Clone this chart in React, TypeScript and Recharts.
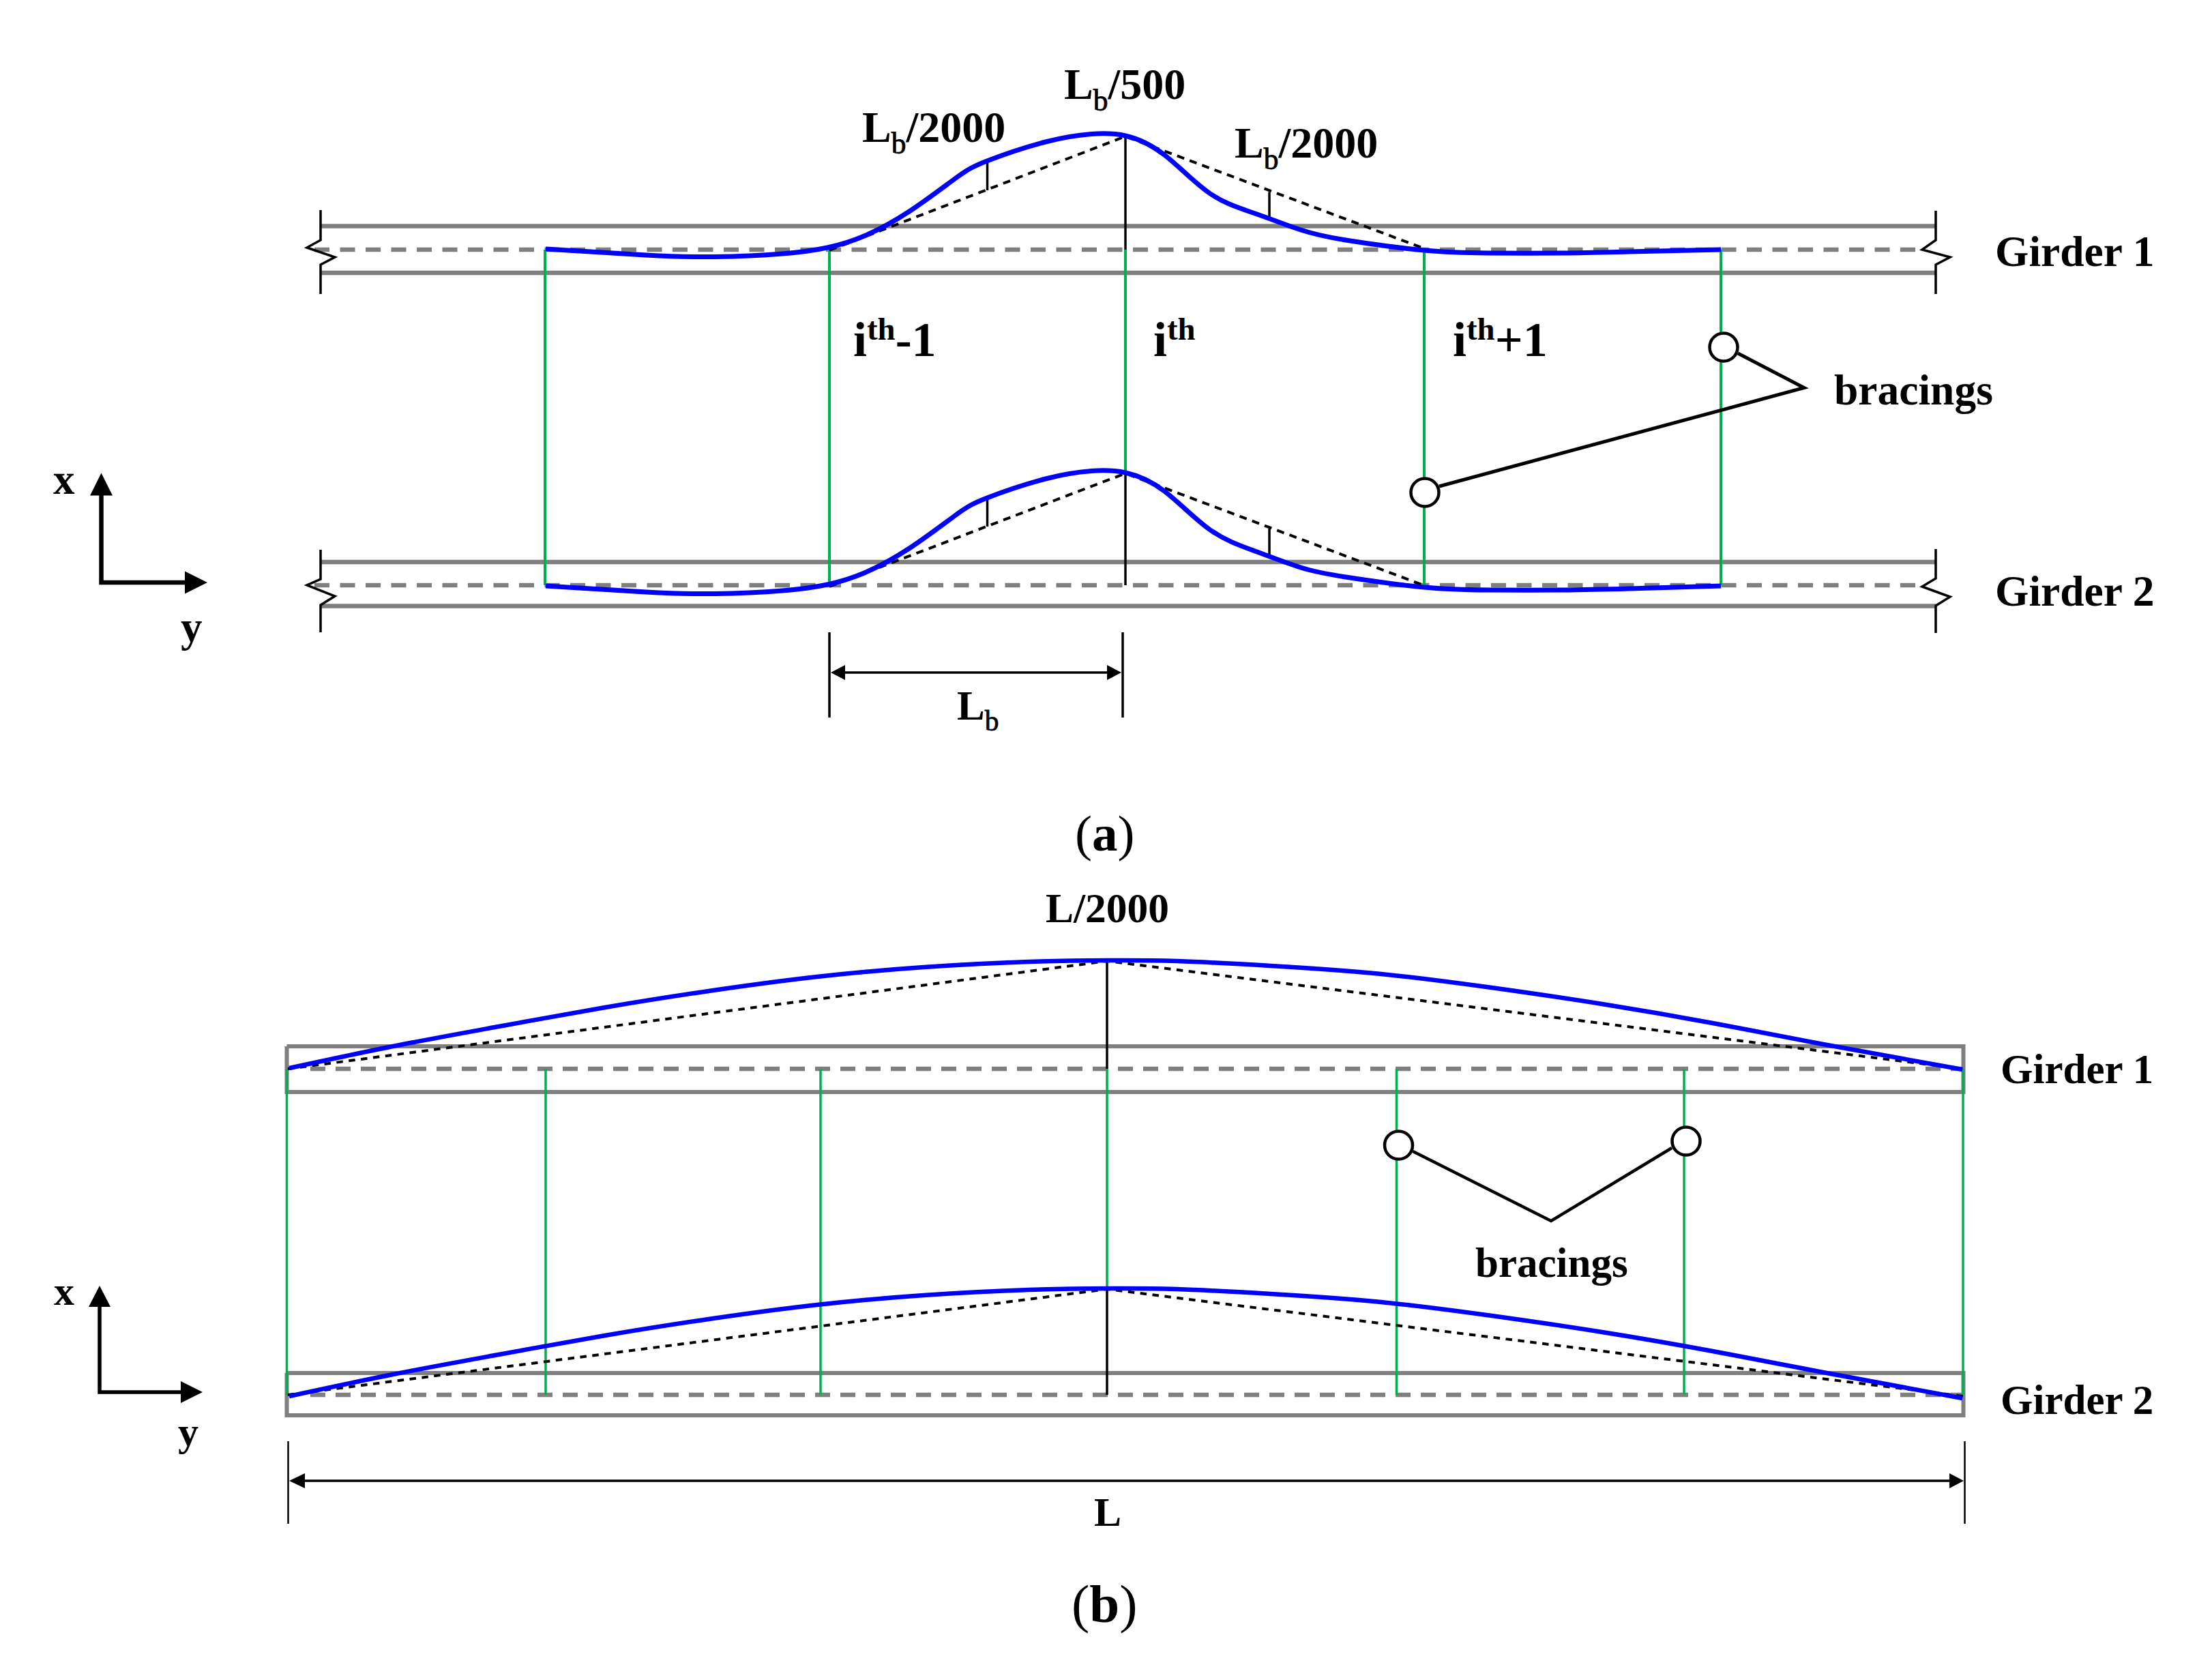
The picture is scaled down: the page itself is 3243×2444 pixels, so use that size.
import React from 'react';
import { ComposedChart, Line, Scatter, XAxis, YAxis } from 'recharts';

const W = 3243, H = 2444;
const GRAY = '#7f7f7f', BLUE = '#0000ff', GREEN = '#00b050', BLACK = '#000000';
const FONT = '"Liberation Serif", "Times New Roman", serif';

type Pt = { x: number; y: number };
const zip = (xs: number[], ys: number[]): Pt[] => xs.map((x, i) => ({ x, y: ys[i] }));

// ---- panel (a) ----
const aRailX = [470, 2838];
const aDashX = [461, 2818];
const aG1RailTop = [331.5, 331.5];
const aG1RailMid = [366, 366];
const aG1RailBot = [400, 400];
const aG2RailTop = [824, 824];
const aG2RailMid = [858, 858];
const aG2RailBot = [888.5, 888.5];

const breakLX1 = [470, 470, 450, 491, 470, 470];
const breakLY1 = [308, 352, 363, 377, 388, 431];
const breakLY2 = [806, 849, 858, 874, 887, 927];
const breakRX = [2838, 2838, 2818, 2859, 2838, 2838];
const breakRY1 = [309, 352, 366, 377, 388, 431];
const breakRY2 = [805, 848, 860, 875, 888, 928];

const aBraceX = [799, 1216, 2088, 2523];
const aMidBraceX = [1650, 1650];
const aMidBraceY = [366, 694];

const aCurveX = [800, 947, 1047, 1147, 1213, 1267, 1333, 1400, 1447, 1533, 1600, 1650, 1707, 1773, 1840, 1907, 1973, 2088, 2182, 2290, 2389, 2523];
const aCurve1Y = [365, 374, 376.5, 372, 363, 346, 310, 262, 236, 208, 196.5, 199, 227, 283, 313, 337, 352, 367, 371, 371, 369, 366];
const aCurve2Y = [859, 868, 870.5, 866, 857, 840, 804, 756, 730, 702, 690.5, 693, 720, 776, 808, 832, 846, 861, 865, 865, 863, 859];
const aChordX = [1216, 1650, 2087];
const aChord1Y = [367, 200, 364];
const aChord2Y = [860, 694, 858];
const aOffsetX = [1447.5, 1861];
const aOff1Top = [279, 281.5];
const aOff1Bot = [236, 323];
const aOff2Top = [772, 775];
const aOff2Bot = [731, 817];
const aPierX = [1650, 1650];
const aPier1Y = [200, 366];
const aPier2Y = [694, 858];
const aLeaderX = [2548, 2645, 2110];
const aLeaderY = [518, 568.5, 713];
const aBubbleX = [2527, 2089];
const aBubbleY = [509, 722];
const aDimX = [1222, 1640];
const aDimY = [986, 986];
const aTickLX = [1216, 1216];
const aTickRX = [1646, 1646];
const aTickY = [927, 1052];
const aAxisX = [148.5, 148.5, 275];
const aAxisY = [725, 854, 854];

// ---- panel (b) ----
const bBox1X = [420.5, 2878.5, 2878.5, 420.5, 420.5];
const bBox1Y = [1534, 1534, 1601, 1601, 1534];
const bBox2Y = [2013, 2013, 2075, 2075, 2013];
const bDashX = [455, 2878];
const bDash1Y = [1567, 1567];
const bDash2Y = [2045, 2045];
const bBraceX = [420.5, 800, 1203, 2047.5, 2469, 2878];
const bMidGreenX = [1623, 1623];
const bMidGreenY = [1567, 1889];
const bCurveX = [424, 576, 731, 887, 1042, 1198, 1354, 1509, 1625, 1725, 1863, 2025, 2187, 2349, 2511, 2673, 2877];
const bCurve1Y = [1566, 1534, 1505, 1477, 1452.5, 1432, 1418, 1410, 1408, 1409, 1416, 1428, 1448, 1472, 1500, 1531, 1568];
const bCurve2Y = [2047, 2015, 1986, 1958, 1933.5, 1913, 1899, 1891, 1889, 1890, 1897, 1909, 1929, 1953, 1981, 2012, 2050];
const bChordX = [422, 1623, 2878];
const bChord1Y = [1567, 1409, 1567];
const bChord2Y = [2045, 1890, 2047];
const bPierX = [1623, 1623];
const bPier1Y = [1409, 1567];
const bPier2Y = [1890, 2045];
const bLeaderX = [2071.5, 2274, 2451];
const bLeaderY = [1688, 1790, 1683];
const bBubbleX = [2050.5, 2472];
const bBubbleY = [1679, 1673];
const bDimX = [440, 2862];
const bDimY = [2171, 2171];
const bTickLX = [422.5, 422.5];
const bTickRX = [2880.5, 2880.5];
const bTickY = [2113, 2234];
const bAxisX = [146, 146, 270];
const bAxisY = [1912, 2041, 2041];

// ---- arrow heads ----
const headX = [148.5, 304, 146, 297, 1218, 1644, 424, 2879];
const headY = [693.5, 854, 1885, 2041, 986, 986, 2171, 2171];
const headDir = ['up', 'right', 'up', 'right', 'left', 'right', 'left', 'right'];
const headLen = [33, 33, 31, 32, 21, 21, 23, 21];
const headHalf = [16.5, 16.5, 16, 16, 11, 11, 11, 11];

// ---- text ----
type Part = [string, ('sub' | 'sup')?];
const textX = [1560, 1264, 1810, 1251, 1691, 2130, 2925, 2925, 2689, 1403, 78, 265, 1533, 2933, 2933, 2163, 1604, 79, 261];
const textY = [145, 208, 231, 522, 522, 522, 390, 888, 593, 1055, 724, 940, 1352, 1588, 2073, 1872, 2237, 1913, 2119];
const textSize = [64, 64, 64, 72, 72, 72, 63.5, 63.5, 63.5, 61, 63, 63, 61.5, 61, 61, 61, 60, 60, 60];
const textParts: Part[][] = [
  [['L'], ['b', 'sub'], ['/500']],
  [['L'], ['b', 'sub'], ['/2000']],
  [['L'], ['b', 'sub'], ['/2000']],
  [['i'], ['th', 'sup'], ['-1']],
  [['i'], ['th', 'sup']],
  [['i'], ['th', 'sup'], ['+1']],
  [['Girder 1']],
  [['Girder 2']],
  [['bracings']],
  [['L'], ['b', 'sub']],
  [['x']],
  [['y']],
  [['L/2000']],
  [['Girder 1']],
  [['Girder 2']],
  [['bracings']],
  [['L']],
  [['x']],
  [['y']],
];
const captionText = ['a', 'b'];
const captionX = [1576, 1571];
const captionY = [1247, 2378];
const captionSize = [75, 79];

const textData = textX.map((x, i) => ({ x, y: textY[i], parts: textParts[i], size: textSize[i] }));
const captionData = captionX.map((x, i) => ({ x, y: captionY[i], letter: captionText[i], size: captionSize[i] }));
const headData = headX.map((x, i) => ({ x, y: headY[i], dir: headDir[i], len: headLen[i], half: headHalf[i] }));
const bubbleData = [...zip(aBubbleX, aBubbleY), ...zip(bBubbleX, bBubbleY)];

const LabelShape = (p: any) => {
  const { parts, size } = p.payload;
  const sub = size * 0.26, sup = size * 0.33;
  let shift = 0;
  return (
    <text x={p.cx} y={p.cy} fontFamily={FONT} fontSize={size} fontWeight="bold" fill={BLACK}>
      {parts.map((part: Part, i: number) => {
        const target = part[1] === 'sub' ? sub : part[1] === 'sup' ? -sup : 0;
        const dy = target - shift;
        shift = target;
        return (
          <tspan key={i} dy={dy} fontSize={part[1] ? size * (part[1] === 'sub' ? 0.68 : 0.65) : size}
            fontWeight={part[1] === 'sub' ? 'normal' : 'bold'}
            stroke={part[1] === 'sub' ? BLACK : undefined} strokeWidth={part[1] === 'sub' ? 0.8 : undefined}>
            {part[0]}
          </tspan>
        );
      })}
    </text>
  );
};

const CaptionShape = (p: any) => (
  <text x={p.cx} y={p.cy} fontFamily={FONT} fontSize={p.payload.size} fill={BLACK}>
    (<tspan fontWeight="bold">{p.payload.letter}</tspan>)
  </text>
);

const HeadShape = (p: any) => {
  const { dir, len, half } = p.payload;
  const { cx, cy } = p;
  const pts =
    dir === 'up' ? [[cx, cy], [cx - half, cy + len], [cx + half, cy + len]] :
    dir === 'right' ? [[cx, cy], [cx - len, cy - half], [cx - len, cy + half]] :
    [[cx, cy], [cx + len, cy - half], [cx + len, cy + half]];
  return <polygon points={pts.map((q) => q.join(',')).join(' ')} fill={BLACK} />;
};

const BubbleShape = (p: any) => (
  <circle cx={p.cx} cy={p.cy} r={20.5} fill="#ffffff" stroke={BLACK} strokeWidth={4.5} />
);

const seg = (name: string, xs: number[], ys: number[], color: string, width: number, dash?: string, curve: any = 'linear') => (
  <Line key={name} name={name} data={zip(xs, ys)} dataKey="y" type={curve} stroke={color} strokeWidth={width}
    strokeDasharray={dash} dot={false} activeDot={false} legendType="none" isAnimationActive={false}
    strokeLinejoin="miter" strokeLinecap="butt" connectNulls />
);

export default function App() {
  return (
    <div style={{ position: 'absolute', left: 0, top: 0, width: W, height: H, background: '#fff' }}>
      <ComposedChart width={W} height={H} margin={{ top: 0, right: 0, bottom: 0, left: 0 }} data={[]}>
        <XAxis type="number" dataKey="x" domain={[0, W]} hide allowDataOverflow />
        <YAxis type="number" dataKey="y" domain={[0, H]} reversed hide allowDataOverflow width={0} />

        {seg('a-g1-top', aRailX, aG1RailTop, GRAY, 6.5)}
        {seg('a-g1-bot', aRailX, aG1RailBot, GRAY, 6.5)}
        {seg('a-g2-top', aRailX, aG2RailTop, GRAY, 6.5)}
        {seg('a-g2-bot', aRailX, aG2RailBot, GRAY, 6.5)}
        {seg('a-g1-mid', aDashX, aG1RailMid, GRAY, 6.5, '22 15.5')}
        {seg('a-g2-mid', aDashX, aG2RailMid, GRAY, 6.5, '22 15.5')}
        {seg('a-brk-l1', breakLX1, breakLY1, BLACK, 3.5)}
        {seg('a-brk-l2', breakLX1, breakLY2, BLACK, 3.5)}
        {seg('a-brk-r1', breakRX, breakRY1, BLACK, 3.5)}
        {seg('a-brk-r2', breakRX, breakRY2, BLACK, 3.5)}
        {aBraceX.map((x, i) => seg(`a-brace-${i}`, [x, x], [aG1RailMid[0], aG2RailMid[0]], GREEN, 4))}
        {seg('a-brace-mid', aMidBraceX, aMidBraceY, GREEN, 4)}
        {seg('a-pier-1', aPierX, aPier1Y, BLACK, 3.5)}
        {seg('a-pier-2', aPierX, aPier2Y, BLACK, 3.5)}
        {seg('a-chord-1', aChordX, aChord1Y, BLACK, 4, '11 8.5')}
        {seg('a-chord-2', aChordX, aChord2Y, BLACK, 4, '11 8.5')}
        {aOffsetX.map((x, i) => seg(`a-off1-${i}`, [x, x], [aOff1Top[i], aOff1Bot[i]], BLACK, 3.5))}
        {aOffsetX.map((x, i) => seg(`a-off2-${i}`, [x, x], [aOff2Top[i], aOff2Bot[i]], BLACK, 3.5))}
        {seg('a-curve-1', aCurveX, aCurve1Y, BLUE, 7, undefined, 'natural')}
        {seg('a-curve-2', aCurveX, aCurve2Y, BLUE, 7, undefined, 'natural')}
        {seg('a-leader', aLeaderX, aLeaderY, BLACK, 5)}
        {seg('a-dim', aDimX, aDimY, BLACK, 3.5)}
        {seg('a-tick-l', aTickLX, aTickY, BLACK, 3.5)}
        {seg('a-tick-r', aTickRX, aTickY, BLACK, 3.5)}
        {seg('a-axis', aAxisX, aAxisY, BLACK, 6.5)}

        {seg('b-box-1', bBox1X, bBox1Y, GRAY, 6)}
        {seg('b-box-2', bBox1X, bBox2Y, GRAY, 6)}
        {seg('b-mid-1', bDashX, bDash1Y, GRAY, 6.5, '22 15')}
        {seg('b-mid-2', bDashX, bDash2Y, GRAY, 6.5, '22 15')}
        {bBraceX.map((x, i) => seg(`b-brace-${i}`, [x, x], [bDash1Y[0], bDash2Y[0]], GREEN, 3.5))}
        {seg('b-brace-mid', bMidGreenX, bMidGreenY, GREEN, 3.5)}
        {seg('b-pier-1', bPierX, bPier1Y, BLACK, 3.5)}
        {seg('b-pier-2', bPierX, bPier2Y, BLACK, 3.5)}
        {seg('b-chord-1', bChordX, bChord1Y, BLACK, 4, '9.5 8.5')}
        {seg('b-chord-2', bChordX, bChord2Y, BLACK, 4, '9.5 8.5')}
        {seg('b-curve-1', bCurveX, bCurve1Y, BLUE, 6.5, undefined, 'natural')}
        {seg('b-curve-2', bCurveX, bCurve2Y, BLUE, 6.5, undefined, 'natural')}
        {seg('b-leader', bLeaderX, bLeaderY, BLACK, 4.5)}
        {seg('b-dim', bDimX, bDimY, BLACK, 3.5)}
        {seg('b-tick-l', bTickLX, bTickY, BLACK, 2.5)}
        {seg('b-tick-r', bTickRX, bTickY, BLACK, 2.5)}
        {seg('b-axis', bAxisX, bAxisY, BLACK, 5.5)}

        <Scatter name="heads" data={headData} shape={HeadShape} isAnimationActive={false} legendType="none" />
        <Scatter name="bubbles" data={bubbleData} shape={BubbleShape} isAnimationActive={false} legendType="none" />
        <Scatter name="labels" data={textData} shape={LabelShape} isAnimationActive={false} legendType="none" />
        <Scatter name="captions" data={captionData} shape={CaptionShape} isAnimationActive={false} legendType="none" />
      </ComposedChart>
    </div>
  );
}
